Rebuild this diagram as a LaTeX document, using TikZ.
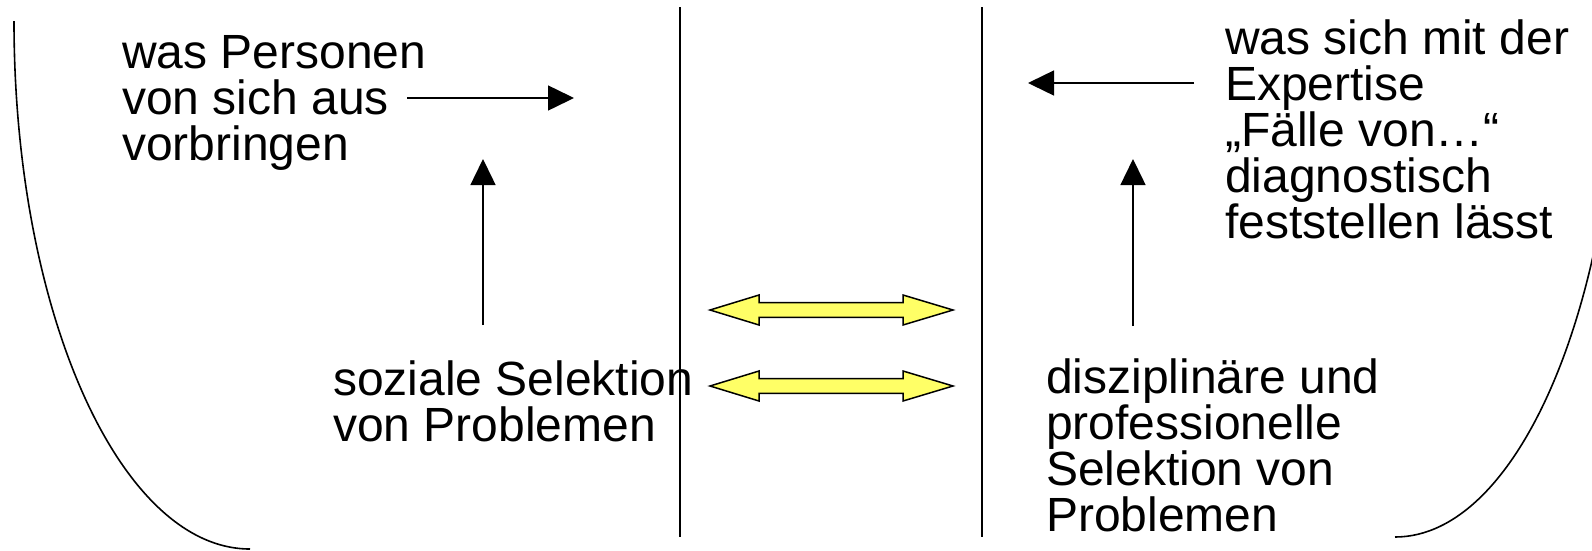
\documentclass[tikz,border=0pt]{standalone}
\usepackage{fontspec}
\setmainfont{Liberation Sans}
\usetikzlibrary{arrows.meta}
\begin{document}
\begin{tikzpicture}[x=1pt,y=-1pt,
  lbl/.style={anchor=base west, inner sep=0pt, outer sep=0pt, align=left,
    font=\fontsize{48}{46}\selectfont},
  conn/.style={line width=1.5pt, -{Triangle[length=26pt,width=25pt]}},
  divider/.style={line width=1.8pt},
  bowl/.style={line width=1.6pt},
  dblarrow/.style={draw=black, line width=1.5pt, fill=arrowyellow, line join=miter}]
\definecolor{arrowyellow}{HTML}{FFFF66}
\useasboundingbox (0,0) rectangle (1592,550);
\clip (0,0) rectangle (1592,550);

% bowls
\draw[bowl] (14,21) .. controls (14,312) and (120,549) .. (250,549);
\draw[bowl] (1395,537) .. controls (1519,537) and (1619,300) .. (1619,9);

% dividers
\draw[divider] (680,7) -- (680,537);
\draw[divider] (982,7) -- (982,537);

% texts (anchored at the baseline of their last line)
\node[lbl] (tl) at (122,160) {was Personen\\von sich aus\\vorbringen};
\node[lbl] (bl) at (333,441) {soziale Selektion\\von Problemen};
\node[lbl] (tr) at (1225,238) {was sich mit der\\Expertise\\„Fälle von…“\\diagnostisch\\feststellen lässt};
\node[lbl] (br) at (1046,531) {disziplinäre und\\professionelle\\Selektion von\\Problemen};

% connectors
\coordinate (a1s) at (407,98);  \coordinate (a1e) at (574,98);
\coordinate (a2s) at (483,325); \coordinate (a2e) at (483,159);
\coordinate (a3s) at (1194,83); \coordinate (a3e) at (1028,83);
\coordinate (a4s) at (1133,326); \coordinate (a4e) at (1133,159);
\draw[conn] (a1s) -- (a1e);
\draw[conn] (a2s) -- (a2e);
\draw[conn] (a3s) -- (a3e);
\draw[conn] (a4s) -- (a4e);

% yellow double arrows
\foreach \yc in {310,386}{
  \draw[dblarrow] (710,\yc) -- (759,\yc-15) -- (759,\yc-7.3) -- (903,\yc-7.3)
    -- (903,\yc-15) -- (953,\yc) -- (903,\yc+15) -- (903,\yc+7.3)
    -- (759,\yc+7.3) -- (759,\yc+15) -- cycle;
}
\end{tikzpicture}
\end{document}
